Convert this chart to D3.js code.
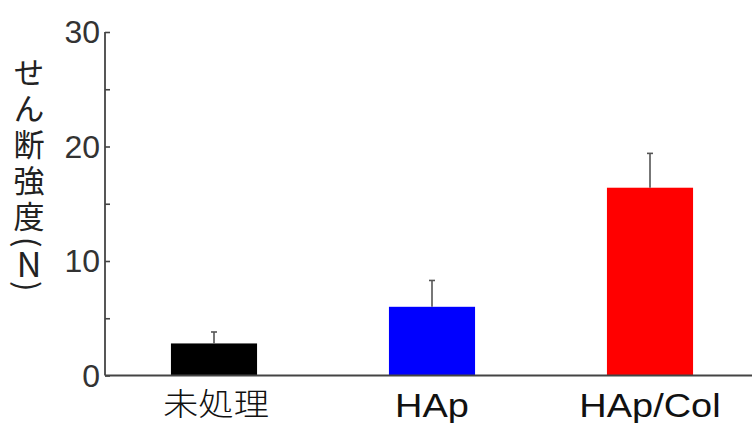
<!DOCTYPE html>
<html>
<head>
<meta charset="utf-8">
<script src="https://cdn.jsdelivr.net/npm/d3@7"></script>
<style>
  html, body { margin: 0; padding: 0; background: #fff; }
  svg { display: block; }
</style>
</head>
<body>
<svg id="chart" width="752" height="423"></svg>
<script>
const categories = ["未処理", "HAp", "HAp/Col"];
const means = [2.8, 6.0, 16.4];
const errorTops = [3.8, 8.3, 19.4];
const barColors = ["#000000", "#0000ff", "#ff0000"];
const yTicks = [0, 5, 10, 15, 20, 25, 30];
const yTickLabels = ["0", "", "10", "", "20", "", "30"];
const yTitle = "せん断強度";
const yUnit = "N";

const svg = d3.select("#chart");
const mLeft = 105, mRight = 759, mTop = 32, mBottom = 375.5;

const x = d3.scaleBand().domain(categories).range([mLeft, mRight])
  .paddingInner(0.605).paddingOuter(0.3025);
const y = d3.scaleLinear().domain([0, 30]).range([mBottom, mTop]);

// bars
svg.selectAll("rect.bar").data(categories).enter().append("rect")
  .attr("class", "bar")
  .attr("x", d => x(d))
  .attr("width", x.bandwidth())
  .attr("y", (d, i) => y(means[i]))
  .attr("height", (d, i) => y(0) - y(means[i]))
  .attr("fill", (d, i) => barColors[i]);

// error bars
const eg = svg.append("g").attr("stroke", "#555").attr("stroke-width", 1.6);
categories.forEach((c, i) => {
  const cx = x(c) + x.bandwidth() / 2;
  eg.append("line").attr("x1", cx).attr("x2", cx)
    .attr("y1", y(means[i])).attr("y2", y(errorTops[i]));
  eg.append("line").attr("x1", cx - 3).attr("x2", cx + 3)
    .attr("y1", y(errorTops[i])).attr("y2", y(errorTops[i]));
});

// y axis
const yAxis = d3.axisLeft(y).tickValues(yTicks).tickSize(-5).tickPadding(10)
  .tickFormat((d, i) => yTickLabels[i]);
const yg = svg.append("g").attr("transform", `translate(${mLeft},0)`).call(yAxis);
yg.select(".domain").attr("stroke", "#444").attr("stroke-width", 1.8)
  .attr("d", `M0,${mTop}V${mBottom}`);
yg.selectAll(".tick line").attr("stroke", "#444").attr("stroke-width", 1.6);
yg.selectAll(".tick text")
  .attr("font-family", "'Liberation Sans', Arial, sans-serif")
  .attr("font-size", 32).attr("fill", "#333").attr("x", -5).attr("dy", "0.33em");

// x axis
const xAxis = d3.axisBottom(x).tickSize(0).tickPadding(0);
const xg = svg.append("g").attr("transform", `translate(0,${mBottom})`).call(xAxis);
xg.select(".domain").attr("stroke", "#444").attr("stroke-width", 1.8)
  .attr("d", `M${mLeft},0H752`);
xg.selectAll(".tick text")
  .attr("font-family", "'Liberation Sans', Arial, 'Noto Sans CJK JP', sans-serif")
  .attr("font-size", 33).attr("fill", "#111")
  .attr("y", 0).attr("dy", 0)
  .attr("transform", "translate(0,41) scale(1.15,1)");
xg.selectAll(".tick").each(function(d) {
  if (d === "未処理") {
    d3.select(this).select("text")
      .attr("font-family", "'Noto Sans CJK JP', sans-serif")
      .attr("font-size", 31).attr("font-weight", 300)
      .attr("transform", "translate(2,39) scale(1.14,1)");
  }
});

// y title (vertical)
const t = svg.append("text")
  .attr("x", 29).attr("y", 57)
  .attr("font-family", "'Noto Sans CJK JP', sans-serif")
  .attr("font-size", 31).attr("fill", "#222")
  .style("writing-mode", "vertical-rl")
  .style("text-orientation", "mixed");
t.append("tspan").style("letter-spacing", "5px").text(yTitle);
t.append("tspan").text("(");
t.append("tspan").style("text-orientation", "upright").attr("font-size", 34).text(yUnit);
t.append("tspan").text(")");
</script>
</body>
</html>
